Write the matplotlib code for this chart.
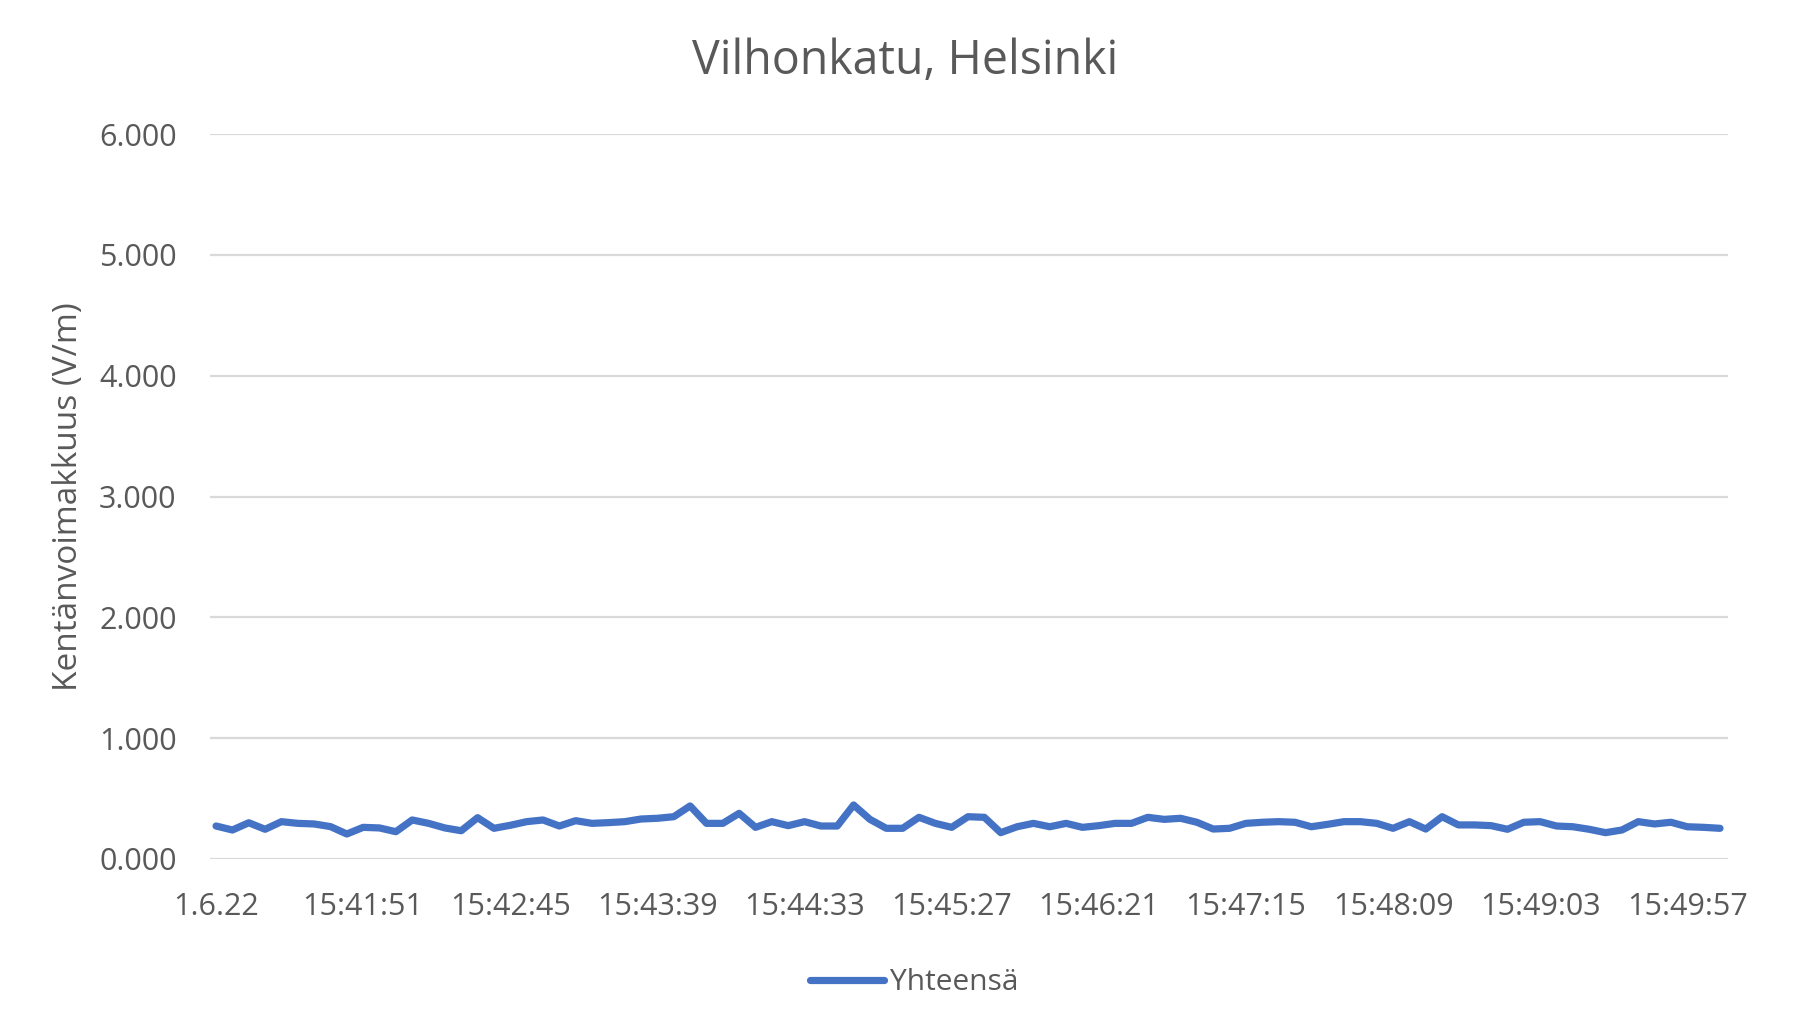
import matplotlib
matplotlib.use("Agg")
import matplotlib.pyplot as plt
from datetime import datetime, timedelta

# ---- data ----
values = [
    0.273, 0.240, 0.300, 0.246, 0.309, 0.295, 0.290, 0.268, 0.207, 0.262,
    0.257, 0.226, 0.323, 0.295, 0.257, 0.234, 0.342, 0.254, 0.279, 0.309,
    0.323, 0.273, 0.317, 0.295, 0.301, 0.309, 0.331, 0.337, 0.350, 0.439,
    0.295, 0.295, 0.378, 0.262, 0.309, 0.276, 0.309, 0.273, 0.273, 0.447,
    0.328, 0.254, 0.254, 0.345, 0.295, 0.262, 0.350, 0.345, 0.218, 0.267,
    0.295, 0.267, 0.295, 0.262, 0.276, 0.295, 0.295, 0.345, 0.328, 0.337,
    0.304, 0.248, 0.254, 0.295, 0.304, 0.309, 0.304, 0.267, 0.287, 0.309,
    0.309, 0.295, 0.254, 0.309, 0.248, 0.350, 0.282, 0.282, 0.276, 0.246,
    0.304, 0.309, 0.273, 0.267, 0.246, 0.218, 0.240, 0.309, 0.290, 0.304,
    0.267, 0.262, 0.254,
]
start_time = "15:40:57"
sample_step_s = 6
first_label = "1.6.22"
label_every = 9
series_name = "Yhteensä"
title = "Vilhonkatu, Helsinki"
ylabel = "Kentänvoimakkuus (V/m)"
yticks = [0, 1, 2, 3, 4, 5, 6]

t0 = datetime.strptime(start_time, "%H:%M:%S")
categories = [first_label if i == 0 else
              (t0 + timedelta(seconds=sample_step_s * i)).strftime("%H:%M:%S")
              for i in range(len(values))]

TEXT = "#595959"
GRID = "#D9D9D9"
LINE = "#4472C4"
FONT = ["Open Sans", "DejaVu Sans"]
plt.rcParams["font.family"] = FONT

W, H = 1810, 1025
fig = plt.figure(figsize=(W / 100, H / 100), dpi=100)
ax = fig.add_axes([210 / W, 1 - 859 / H, (1728 - 210) / W, (859 - 134) / H])

x = list(range(len(values)))
ln, = ax.plot(x, values, color=LINE, lw=5.2, solid_capstyle="round",
              solid_joinstyle="round", label=series_name)

ax.set_xlim(-0.37, len(values) - 1 + 0.49)
ax.set_ylim(0, 6)
ax.set_yticks(yticks)
ax.set_yticklabels([f"{v:.3f}" for v in yticks])
tick_pos = x[::label_every]
ax.set_xticks(tick_pos)
ax.set_xticklabels([categories[i] for i in tick_pos])

ax.grid(axis="y", color=GRID, lw=1.6)
ax.set_axisbelow(True)
for s in ax.spines.values():
    s.set_visible(False)
ax.tick_params(axis="both", length=0, colors=TEXT)
ax.tick_params(axis="y", pad=24, labelsize=22)
ax.tick_params(axis="x", pad=24, labelsize=22)

ax.set_ylabel(ylabel, color=TEXT, fontsize=24, labelpad=10)

fig.text(0.5, 1 - 61 / H, title, ha="center", va="center", color=TEXT, fontsize=33.5)

leg = fig.legend(handles=[ln], loc="center", bbox_to_anchor=(914 / W, 1 - 983 / H),
                 frameon=False, fontsize=21.5, handlelength=2.5, handletextpad=0.2)
for t in leg.get_texts():
    t.set_color(TEXT)

fig.savefig("out.png", dpi=100)
